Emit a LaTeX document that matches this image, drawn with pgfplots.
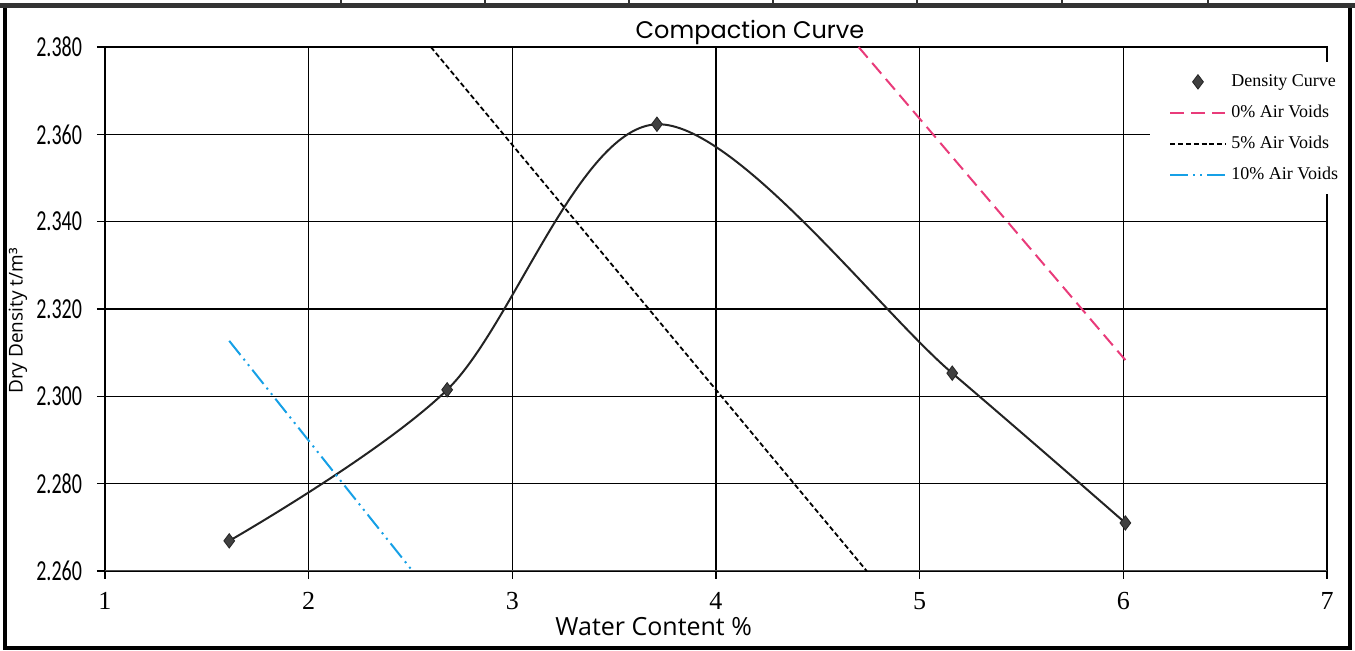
\documentclass[border=0pt]{standalone}
\usepackage{fontspec}
\setmainfont{Liberation Serif}
\newfontfamily\titlefont{Poppins}
\newfontfamily\labelfont{Open Sans}
\newfontfamily\tickfont{Carlito}
\usepackage{graphicx}
\usepackage{pgfplots}
\pgfplotsset{compat=1.18}

\definecolor{voidpink}{RGB}{233,59,122}
\definecolor{voidblue}{RGB}{22,160,230}
\definecolor{curvegray}{RGB}{35,35,35}

% condensed look of the y tick numbers
\newcommand{\ylab}[1]{\scalebox{1}[1.45]{\tickfont\fontsize{10}{10}\selectfont #1}}

\begin{document}
\begin{tikzpicture}
% page = 1355 x 651 px, 1px = 0.5pt, axis box lower left at (0,0)
\path[use as bounding box] (-52.5pt,-40pt) rectangle (625pt,285.5pt);

\begin{axis}[
    scale only axis,
    width=611pt, height=262pt,
    xmin=1, xmax=7,
    ymin=2.26, ymax=2.38,
    xtick={1,2,3,4,5,6,7},
    ytick={2.26,2.28,2.30,2.32,2.34,2.36,2.38},
    yticklabels={\ylab{2.260},\ylab{2.280},\ylab{2.300},\ylab{2.320},\ylab{2.340},\ylab{2.360},\ylab{2.380}},
    yticklabel style={xshift=-4pt},
    xticklabel style={font=\fontsize{13}{13}\selectfont, yshift=-3pt, /pgf/number format/assume math mode=true},
    xtick pos=bottom, ytick pos=left,
    tick align=outside, major tick length=4pt,
    tick style={black, line width=0.7pt},
    grid=major,
    major grid style={black, line width=0.7pt},
    axis line style={black, line width=0.7pt},
    xlabel={Water Content \%},
    xlabel style={font=\labelfont\fontsize{12.5}{12.5}\selectfont, at={(axis description cs:0.449,-0.124)}, anchor=base},
    ylabel={Dry Density t/m³},
    ylabel style={font=\labelfont\fontsize{9.5}{9.5}\selectfont, at={(axis description cs:-0.0712,0.477)}, anchor=center},
    legend cell align=left,
    legend style={
        draw=none, fill=white,
        at={(axis description cs:0.8552,0.9714)}, anchor=north west,
        inner xsep=9.5pt, inner ysep=5.5pt,
        font=\fontsize{9}{11}\selectfont,
        nodes={inner sep=0pt, text height=6.5pt, text depth=2pt},
        row sep=7pt, column sep=2.5pt,
    },
    legend image code/.code={
        \draw[mark repeat=2,mark phase=2,#1] plot coordinates {(0pt,0pt)(13.75pt,0pt)(27.5pt,0pt)};
    },
]

% bottom axis line is a darker, heavier grey
\draw[black!70, line width=1.1pt] (axis cs:1,2.26) -- (axis cs:7,2.26);

% density curve (smoothed line, no legend entry)
\addplot[curvegray, line width=1pt, smooth, tension=0.55, forget plot]
coordinates {(1.61,2.2669)(2.68,2.3015)(3.71,2.3623)(5.16,2.3053)(6.01,2.2710)};

% density points
\addplot[only marks, mark=diamond*, mark size=3.6pt, draw=curvegray, fill=black!75]
coordinates {(1.61,2.2669)(2.68,2.3015)(3.71,2.3623)(5.16,2.3053)(6.01,2.2710)};

% 0% air voids
\addplot[voidpink, line width=1pt, dash pattern=on 7pt off 3.5pt]
coordinates {(4.70,2.380)(6.01,2.3083)};

% 5% air voids
\addplot[black, line width=0.9pt, dash pattern=on 2.5pt off 1.4pt]
coordinates {(2.60,2.380)(4.74,2.260)};

% 10% air voids
\addplot[voidblue, line width=1pt, dash pattern=on 9pt off 2.5pt on 1pt off 2.5pt on 1pt off 2.5pt]
coordinates {(1.61,2.3127)(2.51,2.260)};

\legend{Density Curve, 0\% Air Voids, 5\% Air Voids, 10\% Air Voids}
\end{axis}

% title
\node[anchor=base, font=\titlefont\fontsize{12}{12}\selectfont] at (322.5pt,266pt) {Compaction Curve};

% outer frame and the cut-off table row above it
\draw[black, line width=1.6pt] (-50pt,-38.5pt) rectangle (622.5pt,282.5pt);
\fill[black!80] (-52.5pt,281.5pt) rectangle (625pt,284pt);
\foreach \x in {118,190,262,334,406,478.5,551.5}
    \draw[black!80, line width=0.8pt] (\x pt,282.5pt) -- (\x pt,285.5pt);
\end{tikzpicture}
\end{document}
